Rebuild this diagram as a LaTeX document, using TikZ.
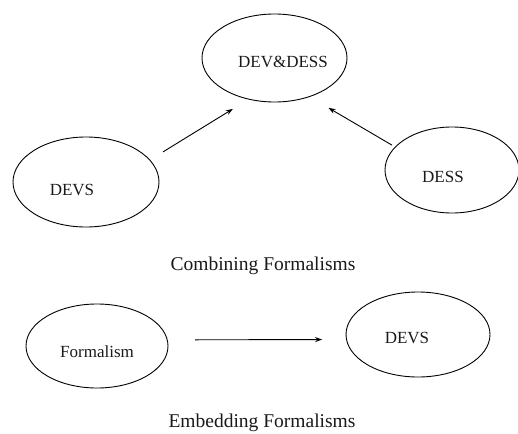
\documentclass[tikz,border=0pt]{standalone}
\usepackage{fontspec}
\setmainfont{Liberation Serif}
\usetikzlibrary{shapes.geometric,arrows.meta}

\tikzset{
  oval/.style={draw, ellipse, line width=0.9pt, inner sep=0pt, outer sep=0pt},
  ovaltext/.style={font=\fontsize{17}{17}\selectfont, text=black!90},
  caption/.style={font=\fontsize{19.5}{19.5}\selectfont, text=black!90, anchor=base},
  link/.style={line width=0.9pt, -{Stealth[length=7pt,width=5pt]}},
}

\begin{document}
\begin{tikzpicture}[x=1pt,y=-1pt]
  \useasboundingbox (0,0) rectangle (518,433);

  % combining formalisms
  \node[oval, minimum width=145pt, minimum height=88pt,
        label={[ovaltext, xshift=8.5pt, yshift=-4pt]center:DEV\&DESS}]
        (both) at (274.5,58) {};
  \node[oval, minimum width=146pt, minimum height=90pt,
        label={[ovaltext, xshift=-14pt, yshift=-8pt]center:DEVS}]
        (devs) at (86,182) {};
  \node[oval, minimum width=134pt, minimum height=86pt,
        label={[ovaltext, xshift=-9pt, yshift=-7pt]center:DESS}]
        (dess) at (452,170) {};

  \draw[link, shorten <=15.6pt, shorten >=18.7pt] (devs.19) -- (both.238);
  \draw[link, shorten <=3.9pt, shorten >=22.3pt] (dess.158) -- (both.-48.6);

  \node[caption] (combcap) at (263,270) {Combining Formalisms};

  % embedding formalisms
  \node[oval, minimum width=142pt, minimum height=84pt,
        label={[ovaltext, yshift=-6pt]center:Formalism}]
        (form) at (97,346) {};
  \node[oval, minimum width=144pt, minimum height=85pt,
        label={[ovaltext, xshift=-11pt, yshift=-3.5pt]center:DEVS}]
        (devsb) at (418,334.5) {};

  \draw[link, shorten <=28pt, shorten >=24.4pt] (form.5.7) -- (devsb.-176.4);

  \node[caption] (embcap) at (262,427.5) {Embedding Formalisms};
\end{tikzpicture}
\end{document}
